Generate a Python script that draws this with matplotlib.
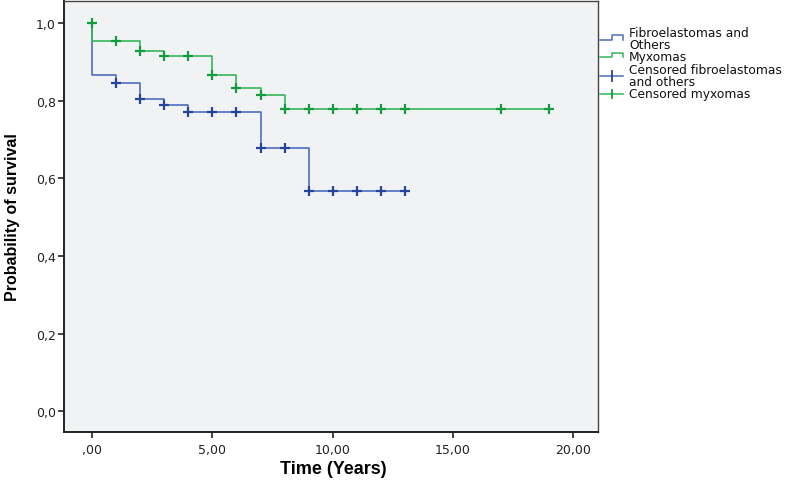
"""
Kaplan-Meier survival curves: fibroelastomas/others vs myxomas.
"""

import matplotlib
matplotlib.use("Agg")
import matplotlib.pyplot as plt

# survival step functions (time in years, probability)
fib_time = [0, 0, 1, 2, 3, 4, 7, 9, 13]
fib_surv = [1.0, 0.867, 0.845, 0.806, 0.789, 0.772, 0.678, 0.567, 0.567]
myx_time = [0, 0, 2, 3, 5, 6, 7, 8, 19]
myx_surv = [1.0, 0.955, 0.929, 0.915, 0.867, 0.832, 0.816, 0.779, 0.779]

# censored observations
fib_cens_t = [1, 2, 3, 4, 5, 6, 7, 8, 9, 10, 11, 12, 13]
fib_cens_s = [0.845, 0.806, 0.789, 0.772, 0.772, 0.772, 0.678, 0.678,
              0.567, 0.567, 0.567, 0.567, 0.567]
myx_cens_t = [0, 1, 2, 3, 4, 5, 6, 7, 8, 9, 10, 11, 12, 13, 17, 19]
myx_cens_s = [1.0, 0.955, 0.929, 0.915, 0.915, 0.867, 0.832, 0.816,
              0.779, 0.779, 0.779, 0.779, 0.779, 0.779, 0.779, 0.779]

x_ticks = [0, 5, 10, 15, 20]
x_ticklabels = [",00", "5,00", "10,00", "15,00", "20,00"]
y_ticks = [0.0, 0.2, 0.4, 0.6, 0.8, 1.0]
y_ticklabels = ["0,0", "0,2", "0,4", "0,6", "0,8", "1,0"]

legend_labels = ["Fibroelastomas and\nOthers", "Myxomas",
                 "Censored fibroelastomas\nand others", "Censored myxomas"]

BLUE = "#4d6dbd"
BLUE_DARK = "#25449a"
GREEN = "#35b65a"
GREEN_DARK = "#129c3f"

fig = plt.figure(figsize=(8.0, 4.81), dpi=100)
ax = fig.add_axes([64.3 / 800, 48.3 / 481, 533.4 / 800, 430.7 / 481])
ax.set_facecolor("#f1f2f4")

ax.step(fib_time, fib_surv, where="post", color=BLUE, linewidth=1.2, zorder=2)
ax.step(myx_time, myx_surv, where="post", color=GREEN, linewidth=1.2, zorder=3)
ax.plot(fib_cens_t, fib_cens_s, "+", color=BLUE_DARK, markersize=7, mew=1.6, zorder=4)
ax.plot(myx_cens_t, myx_cens_s, "+", color=GREEN_DARK, markersize=7, mew=1.6, zorder=5)

ax.set_xlim(-1.165, 21.03)
ax.set_ylim(-0.053, 1.0575)
ax.set_xticks(x_ticks)
ax.set_xticklabels(x_ticklabels)
ax.set_yticks(y_ticks)
ax.set_yticklabels(y_ticklabels)
ax.tick_params(direction="out", length=4.5, width=1.2, color="#222222",
               labelsize=9, labelcolor="#222222")
ax.tick_params(axis="x", pad=3.5)
ax.tick_params(axis="y", pad=1.5)
for side in ["left", "bottom"]:
    ax.spines[side].set_linewidth(1.4)
    ax.spines[side].set_color("#222222")
for side in ["top", "right"]:
    ax.spines[side].set_linewidth(1.0)
    ax.spines[side].set_color("#444444")

fig.text(333 / 800, 1 - 470 / 481, "Time (Years)", ha="center", va="center",
         fontsize=13, fontweight="bold", family=["Liberation Sans", "DejaVu Sans"])
fig.text(13 / 800, 1 - 217 / 481, "Probability of survival", ha="center", va="center",
         rotation=90, fontsize=11.5, fontweight="bold",
         family=["Liberation Sans", "DejaVu Sans"])

# legend drawn by hand in pixel coordinates of an overlay
lg = fig.add_axes([0, 0, 1, 1], facecolor="none")
lg.set_xlim(0, 800)
lg.set_ylim(481, 0)
lg.axis("off")
lg.plot([600, 611.7, 611.7, 623.3, 623.3], [41, 41, 35.7, 35.7, 41], color=BLUE, lw=1.1)
lg.plot([600, 611.7, 611.7, 623.3, 623.3], [58.3, 58.3, 54.3, 54.3, 58.3], color=GREEN, lw=1.1)
lg.plot([600, 623.3], [76.7, 76.7], color=BLUE, lw=1.1)
lg.plot([611.7, 611.7], [71.7, 81.7], color=BLUE_DARK, lw=1.3)
lg.plot([600, 623.3], [95, 95], color=GREEN, lw=1.1)
lg.plot([611.7, 611.7], [91, 99], color=GREEN_DARK, lw=1.3)
for label, y in zip(legend_labels, [39.5, 57.5, 76.2, 94.5]):
    lg.text(629, y, label, ha="left", va="center", fontsize=8.8,
            color="#111111", linespacing=0.9)

plt.savefig("out.png", dpi=100)
